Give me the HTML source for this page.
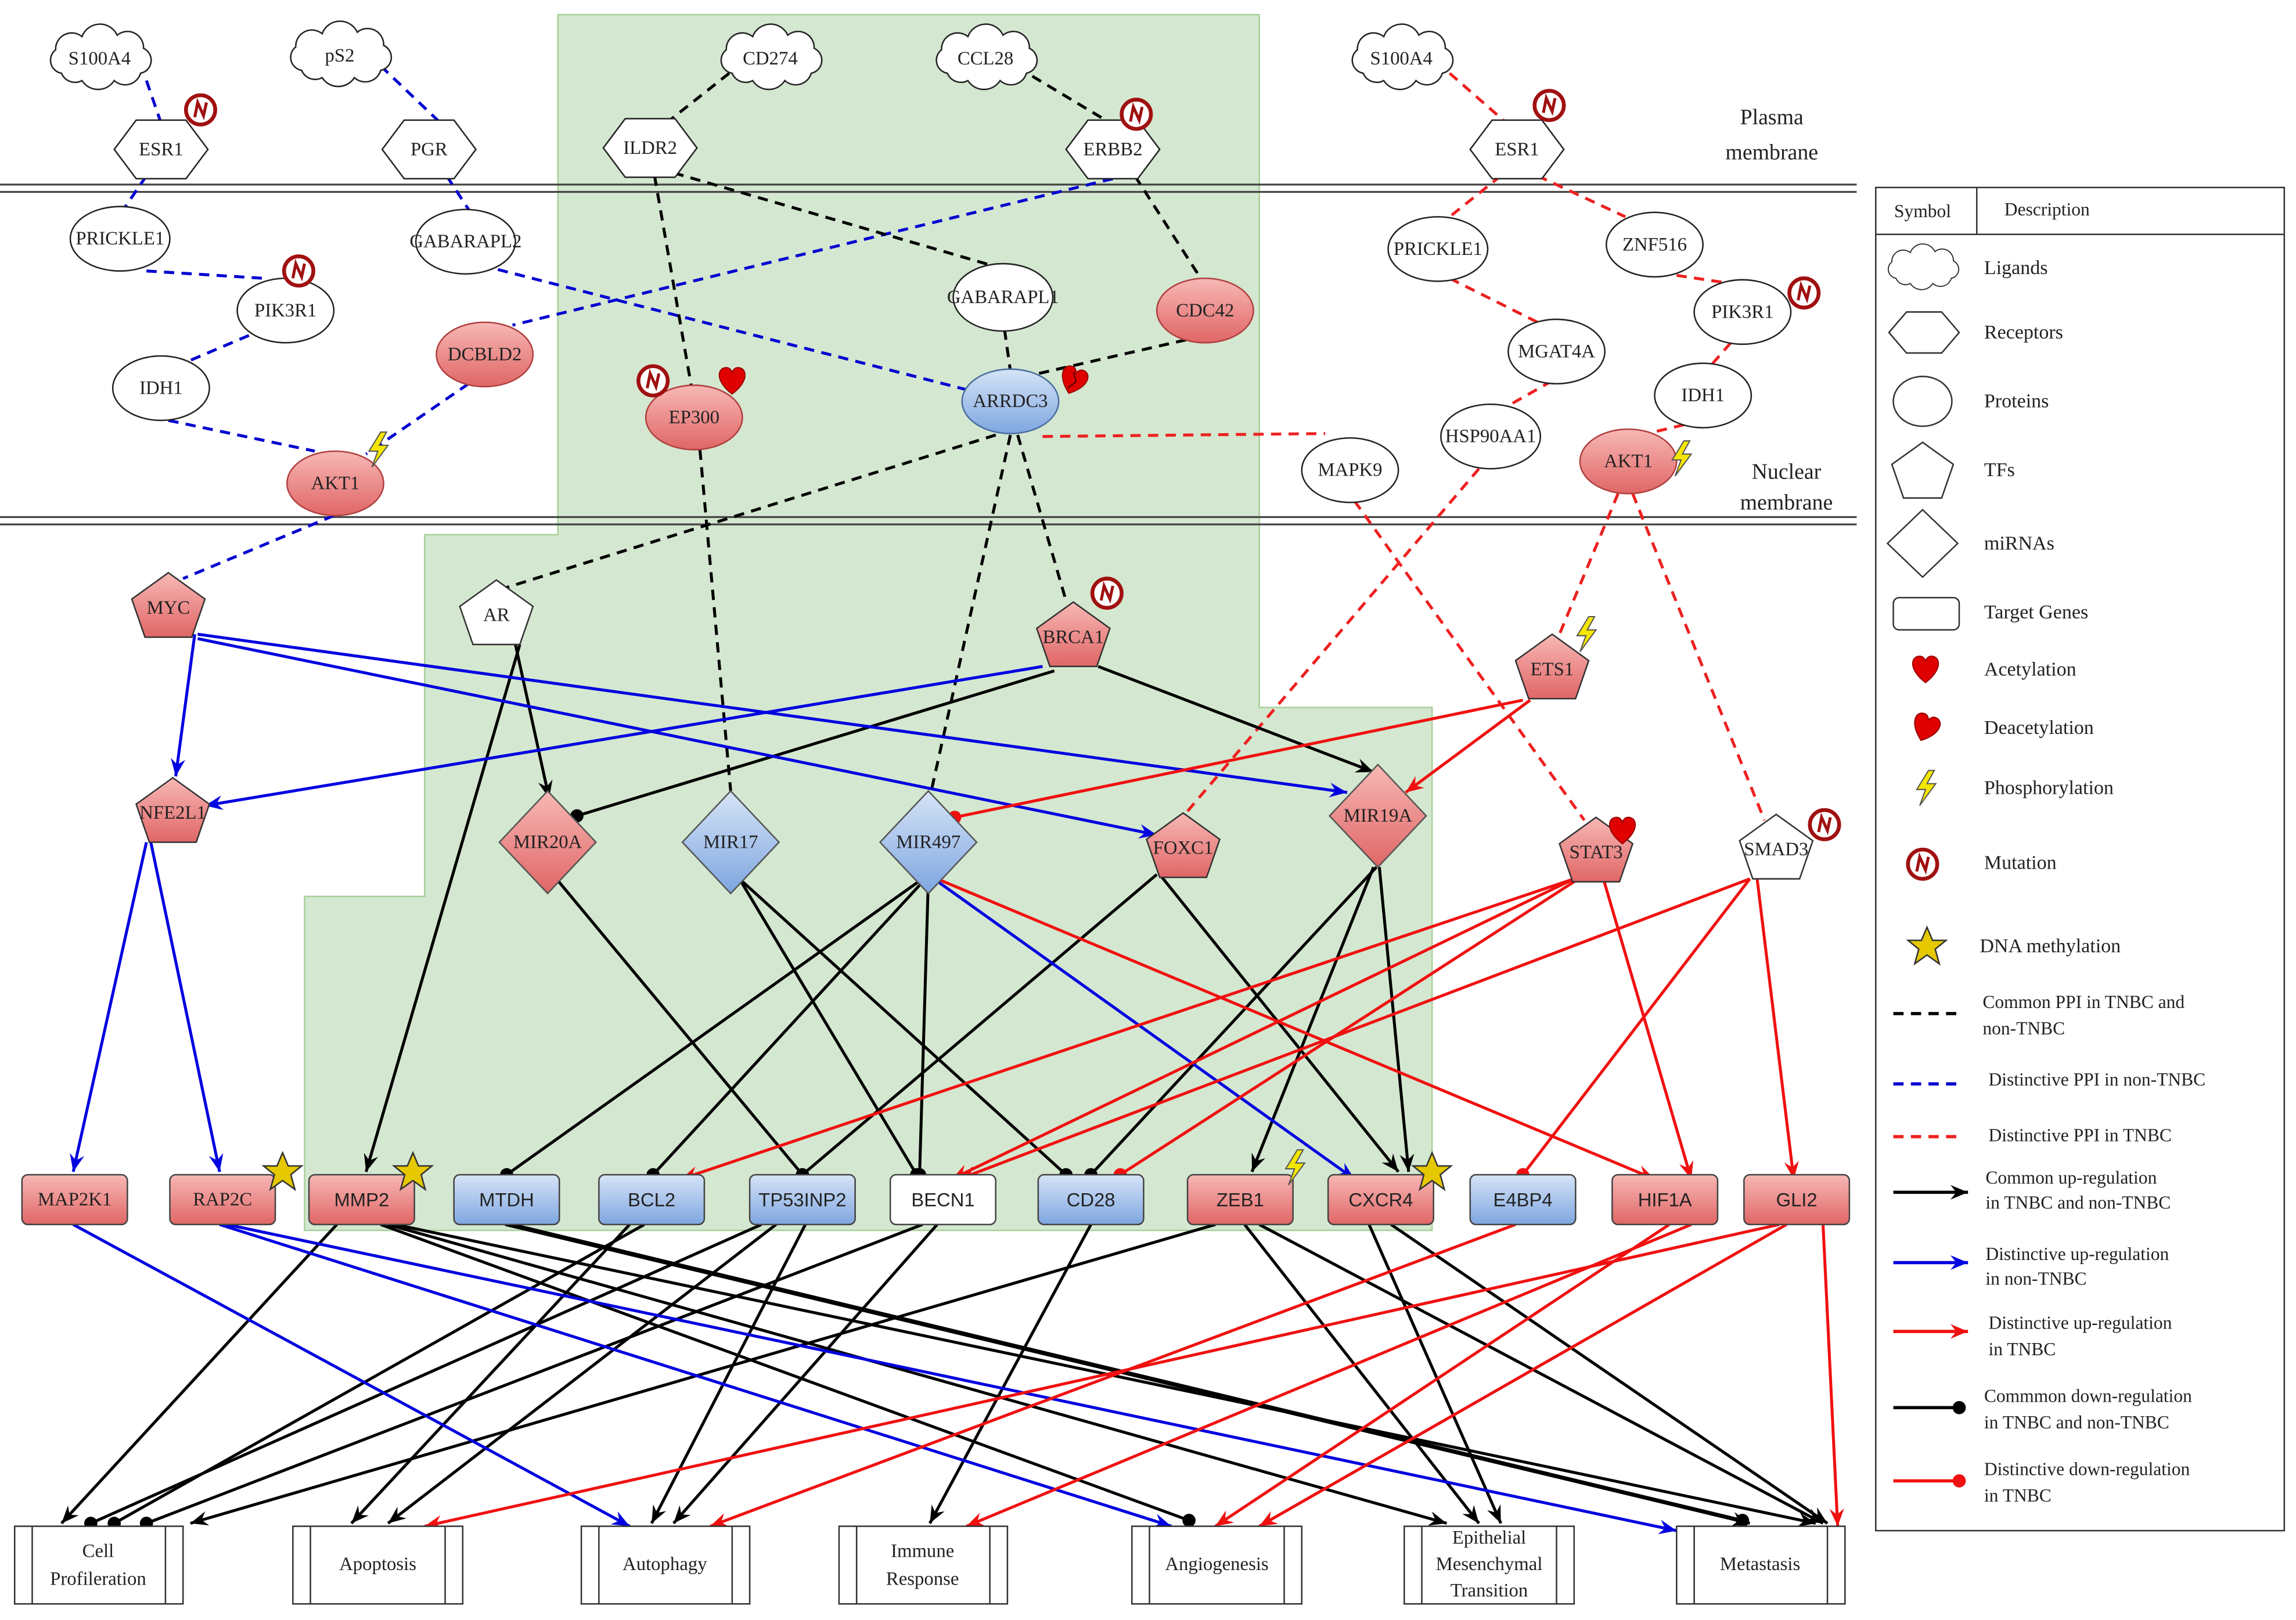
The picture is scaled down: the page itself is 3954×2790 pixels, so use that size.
<!DOCTYPE html>
<html><head><meta charset="utf-8"><style>
html,body{margin:0;padding:0;background:#fff}
svg{display:block}
text{font-family:"Liberation Serif",serif;font-size:13px;fill:#222;text-anchor:middle;dominant-baseline:central}
.s{font-family:"Liberation Sans",sans-serif}
.lg{text-anchor:start;font-size:13.5px}
</style></head><body>
<svg width="3954" height="2790" viewBox="0 0 1568 1106" preserveAspectRatio="none" xmlns="http://www.w3.org/2000/svg">
<defs>
<linearGradient id="gr" x1="0" y1="0" x2="0" y2="1"><stop offset="0" stop-color="#f7b8b5"/><stop offset="1" stop-color="#e06666"/></linearGradient>
<linearGradient id="gb" x1="0" y1="0" x2="0" y2="1"><stop offset="0" stop-color="#d6e4f7"/><stop offset="1" stop-color="#7ea6e0"/></linearGradient>
<marker id="ak" markerUnits="userSpaceOnUse" markerWidth="14" markerHeight="12" refX="12" refY="5" orient="auto"><path d="M0,0 L12,5 L0,10 L4,5z" fill="#000"/></marker>
<marker id="ab" markerUnits="userSpaceOnUse" markerWidth="14" markerHeight="12" refX="12" refY="5" orient="auto"><path d="M0,0 L12,5 L0,10 L4,5z" fill="#0000e0"/></marker>
<marker id="ar" markerUnits="userSpaceOnUse" markerWidth="14" markerHeight="12" refX="12" refY="5" orient="auto"><path d="M0,0 L12,5 L0,10 L4,5z" fill="#f01010"/></marker>
<marker id="dk" markerUnits="userSpaceOnUse" markerWidth="12" markerHeight="12" refX="6" refY="6" orient="auto"><circle cx="6" cy="6" r="4.5" fill="#000"/></marker>
<marker id="dr" markerUnits="userSpaceOnUse" markerWidth="12" markerHeight="12" refX="6" refY="6" orient="auto"><circle cx="6" cy="6" r="4.5" fill="#f01010"/></marker>
<path id="cloud" d="M-26,10 a9,9 0 0,1 -4,-16 a11,11 0 0,1 18,-9 a13,13 0 0,1 24,-1 a11,11 0 0,1 18,9 a9,9 0 0,1 -2,17 a11,11 0 0,1 -18,5 a13,13 0 0,1 -22,0 a10,10 0 0,1 -14,-5z" fill="#fff" stroke="#222" stroke-width="1"/>
<polygon id="hex" points="-32,0 -17,-20 17,-20 32,0 17,20 -17,20" stroke="#222" stroke-width="1"/>
<polygon id="pent" points="0,-22 25,-4 16,22 -16,22 -25,-4" stroke="#333" stroke-width="1"/>
<polygon id="dia" points="0,-35 33,0 0,35 -33,0" stroke="#555" stroke-width="1"/>
<g id="mut"><circle r="10" fill="#fff" stroke="#a01010" stroke-width="2.6"/><path d="M-4,5 L-2,-5 L2,4 L4,-5" fill="none" stroke="#a01010" stroke-width="2"/></g>
<path id="heart" d="M0,9 C-12,0 -10,-9 -4,-9 C-1,-9 0,-6 0,-5 C0,-6 1,-9 4,-9 C10,-9 12,0 0,9z" fill="#e00000" stroke="#900" stroke-width="0.8"/>
<path id="bolt" d="M2,-12 L-6,1 L0,1 L-4,12 L7,-3 L1,-3 L6,-12z" fill="#f5e600" stroke="#555" stroke-width="0.8"/>
<polygon id="star" points="0,-13 3.8,-4 13,-4 5.6,2 8.4,12 0,6 -8.4,12 -5.6,2 -13,-4 -3.8,-4" fill="#e6c800" stroke="#333" stroke-width="1"/>
</defs>

<!-- green background -->
<polygon points="381,10 860,10 860,483 978,483 978,840 208,840 208,612 290,612 290,365 381,365" fill="#d4e7d0" stroke="#a9d09a" stroke-width="1"/>

<!-- membranes -->
<g stroke="#444" stroke-width="1.3"><line x1="0" y1="126" x2="1268" y2="126"/><line x1="0" y1="131" x2="1268" y2="131"/><line x1="0" y1="353" x2="1268" y2="353"/><line x1="0" y1="358" x2="1268" y2="358"/></g>
<text x="1210" y="80" style="font-size:15px">Plasma</text><text x="1210" y="104" style="font-size:15px">membrane</text>
<text x="1220" y="322" style="font-size:15px">Nuclear</text><text x="1220" y="343" style="font-size:15px">membrane</text>

<!-- dashed edges -->
<g fill="none" stroke-width="2" stroke-dasharray="7,5">
<g stroke="#0000d0">
<line x1="100" y1="55" x2="110" y2="84"/><line x1="260" y1="45" x2="303" y2="86"/>
<line x1="100" y1="120" x2="85" y2="142"/><line x1="305" y1="120" x2="320" y2="143"/>
<line x1="100" y1="185" x2="180" y2="190"/><line x1="170" y1="229" x2="130" y2="246"/>
<line x1="115" y1="287" x2="215" y2="308"/><line x1="320" y1="262" x2="250" y2="310"/>
<line x1="760" y1="122" x2="350" y2="222"/><line x1="340" y1="184" x2="660" y2="266"/>
<line x1="228" y1="352" x2="125" y2="395"/>
</g>
<g stroke="#000">
<line x1="498" y1="50" x2="455" y2="84"/><line x1="705" y1="52" x2="760" y2="85"/>
<line x1="447" y1="120" x2="472" y2="263"/><line x1="460" y1="118" x2="680" y2="182"/>
<line x1="775" y1="120" x2="820" y2="190"/><line x1="686" y1="225" x2="690" y2="253"/>
<line x1="810" y1="232" x2="705" y2="256"/><line x1="478" y1="307" x2="499" y2="540"/>
<line x1="680" y1="297" x2="343" y2="402"/><line x1="690" y1="297" x2="636" y2="540"/>
<line x1="695" y1="297" x2="728" y2="410"/>
</g>
<g stroke="#ee2020">
<line x1="990" y1="50" x2="1030" y2="85"/><line x1="1025" y1="120" x2="990" y2="148"/>
<line x1="1050" y1="120" x2="1110" y2="148"/><line x1="1145" y1="188" x2="1185" y2="194"/>
<line x1="990" y1="190" x2="1050" y2="220"/><line x1="1060" y1="260" x2="1030" y2="277"/>
<line x1="1182" y1="234" x2="1168" y2="250"/><line x1="1150" y1="290" x2="1125" y2="296"/>
<line x1="712" y1="298" x2="905" y2="296"/><line x1="1010" y1="320" x2="810" y2="555"/>
<line x1="925" y1="342" x2="1082" y2="560"/><line x1="1105" y1="337" x2="1065" y2="433"/>
<line x1="1115" y1="337" x2="1205" y2="560"/>
</g>
</g>

<!-- solid edges -->
<g fill="none" stroke-width="2">
<g stroke="#000" marker-end="url(#ak)">
<line x1="352" y1="440" x2="375" y2="545"/><line x1="355" y1="440" x2="250" y2="800"/>
<line x1="750" y1="455" x2="938" y2="527"/><line x1="938" y1="592" x2="855" y2="800"/>
<line x1="942" y1="592" x2="962" y2="800"/><line x1="792" y1="597" x2="955" y2="800"/>
<line x1="230" y1="836" x2="42" y2="1040"/><line x1="265" y1="836" x2="988" y2="1040"/>
<line x1="270" y1="836" x2="1240" y2="1040"/><line x1="345" y1="836" x2="1195" y2="1040"/>
<line x1="430" y1="836" x2="240" y2="1040"/><line x1="530" y1="836" x2="265" y2="1040"/>
<line x1="550" y1="836" x2="445" y2="1040"/><line x1="640" y1="836" x2="460" y2="1040"/>
<line x1="745" y1="836" x2="635" y2="1040"/><line x1="830" y1="836" x2="130" y2="1040"/>
<line x1="850" y1="836" x2="1010" y2="1040"/><line x1="860" y1="836" x2="1245" y2="1040"/>
<line x1="935" y1="836" x2="1025" y2="1040"/><line x1="950" y1="836" x2="1248" y2="1040"/>
</g>
<g stroke="#000" marker-end="url(#dk)">
<line x1="720" y1="458" x2="394" y2="557"/><line x1="380" y1="600" x2="548" y2="802"/>
<line x1="505" y1="600" x2="626" y2="802"/><line x1="505" y1="600" x2="728" y2="802"/>
<line x1="630" y1="600" x2="346" y2="802"/><line x1="632" y1="600" x2="446" y2="802"/>
<line x1="634" y1="600" x2="628" y2="802"/><line x1="790" y1="597" x2="548" y2="802"/>
<line x1="940" y1="592" x2="745" y2="802"/>
<line x1="260" y1="836" x2="812" y2="1038"/><line x1="350" y1="836" x2="1190" y2="1038"/>
<line x1="440" y1="836" x2="78" y2="1040"/><line x1="520" y1="836" x2="62" y2="1040"/>
<line x1="630" y1="836" x2="100" y2="1040"/>
</g>
<g stroke="#0000e0" marker-end="url(#ab)">
<line x1="133" y1="433" x2="120" y2="530"/><line x1="135" y1="433" x2="920" y2="541"/>
<line x1="135" y1="436" x2="790" y2="570"/><line x1="712" y1="455" x2="140" y2="550"/>
<line x1="100" y1="575" x2="50" y2="800"/><line x1="103" y1="575" x2="150" y2="800"/>
<line x1="635" y1="598" x2="925" y2="805"/><line x1="50" y1="836" x2="430" y2="1042"/>
<line x1="150" y1="836" x2="800" y2="1042"/><line x1="155" y1="836" x2="1145" y2="1045"/>
</g>
<g stroke="#f01010" marker-end="url(#ar)">
<line x1="1045" y1="478" x2="960" y2="541"/><line x1="640" y1="600" x2="1130" y2="805"/>
<line x1="1075" y1="600" x2="465" y2="805"/><line x1="1075" y1="600" x2="650" y2="805"/>
<line x1="1095" y1="600" x2="1155" y2="805"/><line x1="1200" y1="600" x2="1225" y2="805"/>
<line x1="1195" y1="600" x2="655" y2="805"/><line x1="1035" y1="836" x2="485" y2="1042"/>
<line x1="1140" y1="836" x2="830" y2="1042"/><line x1="1155" y1="836" x2="660" y2="1042"/>
<line x1="1215" y1="836" x2="290" y2="1042"/><line x1="1220" y1="836" x2="860" y2="1042"/>
<line x1="1245" y1="836" x2="1255" y2="1042"/>
</g>
<g stroke="#f01010" marker-end="url(#dr)">
<line x1="1040" y1="478" x2="652" y2="558"/><line x1="1078" y1="600" x2="765" y2="802"/>
<line x1="1195" y1="600" x2="1040" y2="802"/>
</g>
</g>

<!-- clouds -->
<use href="#cloud" x="68" y="40"/><text x="68" y="40">S100A4</text>
<use href="#cloud" x="232" y="38"/><text x="232" y="38">pS2</text>
<use href="#cloud" x="526" y="40"/><text x="526" y="40">CD274</text>
<use href="#cloud" x="673" y="40"/><text x="673" y="40">CCL28</text>
<use href="#cloud" x="957" y="40"/><text x="957" y="40">S100A4</text>

<!-- hexagons -->
<g fill="#fff">
<use href="#hex" x="110" y="102"/><use href="#hex" x="293" y="102"/><use href="#hex" x="444" y="101"/><use href="#hex" x="760" y="102"/><use href="#hex" x="1036" y="102"/>
</g>
<text x="110" y="102">ESR1</text><text x="293" y="102">PGR</text><text x="444" y="101">ILDR2</text><text x="760" y="102">ERBB2</text><text x="1036" y="102">ESR1</text>

<!-- ellipses -->
<g stroke="#222" stroke-width="1" fill="#fff">
<ellipse cx="82" cy="163" rx="34" ry="22"/><ellipse cx="318" cy="165" rx="34" ry="22"/>
<ellipse cx="195" cy="212" rx="33" ry="22"/><ellipse cx="110" cy="265" rx="33" ry="22"/>
<ellipse cx="685" cy="203" rx="34" ry="23"/><ellipse cx="982" cy="170" rx="34" ry="22"/>
<ellipse cx="1130" cy="167" rx="33" ry="22"/><ellipse cx="1190" cy="213" rx="33" ry="22"/>
<ellipse cx="1063" cy="240" rx="33" ry="22"/><ellipse cx="1163" cy="270" rx="33" ry="22"/>
<ellipse cx="1018" cy="298" rx="34" ry="22"/><ellipse cx="922" cy="321" rx="33" ry="22"/>
<g fill="url(#gr)" stroke="#b04040"><ellipse cx="331" cy="242" rx="33" ry="22"/><ellipse cx="823" cy="212" rx="33" ry="22"/><ellipse cx="474" cy="285" rx="33" ry="22"/><ellipse cx="229" cy="330" rx="33" ry="22"/><ellipse cx="1112" cy="315" rx="33" ry="22"/></g>
<ellipse cx="690" cy="274" rx="33" ry="22" fill="url(#gb)" stroke="#4a6ea0"/>
</g>
<text x="82" y="163">PRICKLE1</text><text x="318" y="165">GABARAPL2</text><text x="195" y="212">PIK3R1</text><text x="110" y="265">IDH1</text>
<text x="685" y="203">GABARAPL1</text><text x="982" y="170">PRICKLE1</text><text x="1130" y="167">ZNF516</text><text x="1190" y="213">PIK3R1</text>
<text x="1063" y="240">MGAT4A</text><text x="1163" y="270">IDH1</text><text x="1018" y="298">HSP90AA1</text><text x="922" y="321">MAPK9</text>
<text x="331" y="242">DCBLD2</text><text x="823" y="212">CDC42</text><text x="474" y="285">EP300</text><text x="229" y="330">AKT1</text><text x="1112" y="315">AKT1</text><text x="690" y="274">ARRDC3</text>

<!-- pentagons -->
<g fill="url(#gr)"><use href="#pent" x="115" y="413"/><use href="#pent" x="733" y="433"/><use href="#pent" x="1060" y="455"/><use href="#pent" x="118" y="553"/><use href="#pent" x="808" y="577"/><use href="#pent" x="1090" y="580"/></g>
<g fill="#fff"><use href="#pent" x="339" y="418"/><use href="#pent" x="1213" y="578"/></g>
<text x="115" y="415">MYC</text><text x="339" y="420">AR</text><text x="733" y="435">BRCA1</text><text x="1060" y="457">ETS1</text><text x="118" y="555">NFE2L1</text><text x="808" y="579">FOXC1</text><text x="1090" y="582">STAT3</text><text x="1213" y="580">SMAD3</text>

<!-- diamonds -->
<g fill="url(#gr)"><use href="#dia" x="374" y="575"/><use href="#dia" x="941" y="557"/></g>
<g fill="url(#gb)"><use href="#dia" x="499" y="575"/><use href="#dia" x="634" y="575"/></g>
<text x="374" y="575">MIR20A</text><text x="941" y="557">MIR19A</text><text x="499" y="575">MIR17</text><text x="634" y="575">MIR497</text>

<!-- target genes -->
<g stroke="#444" stroke-width="1">
<g fill="url(#gr)"><rect x="15" y="802" width="72" height="34" rx="4"/><rect x="116" y="802" width="72" height="34" rx="4"/><rect x="211" y="802" width="72" height="34" rx="4"/><rect x="811" y="802" width="72" height="34" rx="4"/><rect x="907" y="802" width="72" height="34" rx="4"/><rect x="1101" y="802" width="72" height="34" rx="4"/><rect x="1191" y="802" width="72" height="34" rx="4"/></g>
<g fill="url(#gb)"><rect x="310" y="802" width="72" height="34" rx="4"/><rect x="409" y="802" width="72" height="34" rx="4"/><rect x="512" y="802" width="72" height="34" rx="4"/><rect x="709" y="802" width="72" height="34" rx="4"/><rect x="1004" y="802" width="72" height="34" rx="4"/></g>
<rect x="608" y="802" width="72" height="34" rx="4" fill="#fff"/>
</g>
<g class="s"><text class="s" x="51" y="819" style="font-family:'Liberation Serif',serif">MAP2K1</text><text x="152" y="819">RAP2C</text>
<text class="s" x="247" y="819">MMP2</text><text class="s" x="346" y="819">MTDH</text><text class="s" x="445" y="819">BCL2</text><text class="s" x="548" y="819">TP53INP2</text><text class="s" x="644" y="819">BECN1</text><text class="s" x="745" y="819">CD28</text><text class="s" x="847" y="819">ZEB1</text><text class="s" x="943" y="819">CXCR4</text><text class="s" x="1040" y="819">E4BP4</text><text class="s" x="1137" y="819">HIF1A</text><text class="s" x="1227" y="819">GLI2</text></g>

<!-- outcomes -->
<g fill="#fff" stroke="#333" stroke-width="1">
<rect x="10" y="1042" width="115" height="53"/><line x1="22" y1="1042" x2="22" y2="1095"/><line x1="113" y1="1042" x2="113" y2="1095"/>
<rect x="200" y="1042" width="116" height="53"/><line x1="212" y1="1042" x2="212" y2="1095"/><line x1="304" y1="1042" x2="304" y2="1095"/>
<rect x="397" y="1042" width="115" height="53"/><line x1="409" y1="1042" x2="409" y2="1095"/><line x1="500" y1="1042" x2="500" y2="1095"/>
<rect x="573" y="1042" width="115" height="53"/><line x1="585" y1="1042" x2="585" y2="1095"/><line x1="676" y1="1042" x2="676" y2="1095"/>
<rect x="773" y="1042" width="116" height="53"/><line x1="785" y1="1042" x2="785" y2="1095"/><line x1="877" y1="1042" x2="877" y2="1095"/>
<rect x="959" y="1042" width="116" height="53"/><line x1="971" y1="1042" x2="971" y2="1095"/><line x1="1063" y1="1042" x2="1063" y2="1095"/>
<rect x="1145" y="1042" width="115" height="53"/><line x1="1157" y1="1042" x2="1157" y2="1095"/><line x1="1248" y1="1042" x2="1248" y2="1095"/>
</g>
<text x="67" y="1059">Cell</text><text x="67" y="1078">Profileration</text>
<text x="258" y="1068">Apoptosis</text><text x="454" y="1068">Autophagy</text>
<text x="630" y="1059">Immune</text><text x="630" y="1078">Response</text>
<text x="831" y="1068">Angiogenesis</text>
<text x="1017" y="1050">Epithelial</text><text x="1017" y="1068">Mesenchymal</text><text x="1017" y="1086">Transition</text>
<text x="1202" y="1068">Metastasis</text>

<!-- modification icons -->
<use href="#mut" x="137" y="75"/><use href="#mut" x="204" y="185"/><use href="#mut" x="776" y="78"/><use href="#mut" x="1058" y="72"/><use href="#mut" x="1232" y="200"/><use href="#mut" x="446" y="260"/><use href="#mut" x="756" y="405"/><use href="#mut" x="1246" y="563"/>
<use href="#heart" x="500" y="260"/><use href="#heart" x="1108" y="567"/>
<g transform="translate(733,260) rotate(20)"><use href="#heart"/><path d="M-2,-6 L2,0 L-2,6" stroke="#600" fill="none" stroke-width="1"/></g>
<use href="#bolt" x="258" y="307"/><use href="#bolt" x="1148" y="313"/><use href="#bolt" x="1083" y="433"/><use href="#bolt" x="884" y="797"/>
<use href="#star" x="193" y="800"/><use href="#star" x="282" y="800"/><use href="#star" x="978" y="800"/>

<!-- legend -->
<g fill="none" stroke="#333" stroke-width="1">
<rect x="1281" y="128" width="279" height="917"/><line x1="1281" y1="160" x2="1560" y2="160"/><line x1="1350" y1="128" x2="1350" y2="160"/>
</g>
<text x="1313" y="144" style="font-size:12.5px">Symbol</text><text x="1398" y="143" style="font-size:12.5px">Description</text>
<use href="#cloud" transform="translate(1313,183) scale(0.7)"/>
<polygon points="1290,227 1302,213 1326,213 1338,227 1326,241 1302,241" fill="#fff" stroke="#333"/>
<ellipse cx="1313" cy="274" rx="20" ry="17" fill="#fff" stroke="#333"/>
<polygon points="1313,302 1334,317 1326,340 1300,340 1292,317" fill="#fff" stroke="#333"/>
<polygon points="1313,348 1337,371 1313,394 1289,371" fill="#fff" stroke="#333"/>
<rect x="1293" y="408" width="45" height="22" rx="4" fill="#fff" stroke="#333"/>
<use href="#heart" x="1315" y="457"/>
<g transform="translate(1315,497) rotate(20)"><use href="#heart"/></g>
<use href="#bolt" x="1315" y="538"/>
<use href="#mut" x="1313" y="590"/>
<use href="#star" x="1316" y="646"/>
<g stroke-width="2.2" fill="none">
<line x1="1293" y1="692" x2="1338" y2="692" stroke="#000" stroke-dasharray="7,5"/>
<line x1="1293" y1="740" x2="1338" y2="740" stroke="#0000d0" stroke-dasharray="7,5"/>
<line x1="1293" y1="776" x2="1338" y2="776" stroke="#ee2020" stroke-dasharray="7,5"/>
<line x1="1293" y1="814" x2="1344" y2="814" stroke="#000" marker-end="url(#ak)"/>
<line x1="1293" y1="862" x2="1344" y2="862" stroke="#0000e0" marker-end="url(#ab)"/>
<line x1="1293" y1="909" x2="1344" y2="909" stroke="#f01010" marker-end="url(#ar)"/>
<line x1="1293" y1="961" x2="1338" y2="961" stroke="#000" marker-end="url(#dk)"/>
<line x1="1293" y1="1011" x2="1338" y2="1011" stroke="#f01010" marker-end="url(#dr)"/>
</g>
<g>
<text class="lg" x="1355" y="183">Ligands</text><text class="lg" x="1355" y="227">Receptors</text><text class="lg" x="1355" y="274">Proteins</text>
<text class="lg" x="1355" y="321">TFs</text><text class="lg" x="1355" y="371">miRNAs</text><text class="lg" x="1355" y="418">Target Genes</text>
<text class="lg" x="1355" y="457">Acetylation</text><text class="lg" x="1355" y="497">Deacetylation</text><text class="lg" x="1355" y="538">Phosphorylation</text>
<text class="lg" x="1355" y="589">Mutation</text><text class="lg" x="1352" y="646">DNA methylation</text>
<text class="lg" x="1354" y="684" style="font-size:12.5px">Common PPI  in TNBC and</text><text class="lg" x="1354" y="702" style="font-size:12.5px">non-TNBC</text>
<text class="lg" x="1358" y="737" style="font-size:12.5px">Distinctive PPI in non-TNBC</text>
<text class="lg" x="1358" y="775" style="font-size:12.5px">Distinctive PPI in TNBC</text>
<text class="lg" x="1356" y="804" style="font-size:12.5px">Common up-regulation</text><text class="lg" x="1356" y="821" style="font-size:12.5px">in TNBC and non-TNBC</text>
<text class="lg" x="1356" y="856" style="font-size:12.5px">Distinctive up-regulation</text><text class="lg" x="1356" y="873" style="font-size:12.5px">in  non-TNBC</text>
<text class="lg" x="1358" y="903" style="font-size:12.5px">Distinctive up-regulation</text><text class="lg" x="1358" y="921" style="font-size:12.5px">in  TNBC</text>
<text class="lg" x="1355" y="953" style="font-size:12.5px">Commmon down-regulation</text><text class="lg" x="1355" y="971" style="font-size:12.5px">in TNBC and non-TNBC</text>
<text class="lg" x="1355" y="1003" style="font-size:12.5px">Distinctive down-regulation</text><text class="lg" x="1355" y="1021" style="font-size:12.5px">in TNBC</text>
</g>
</svg>
</body></html>
